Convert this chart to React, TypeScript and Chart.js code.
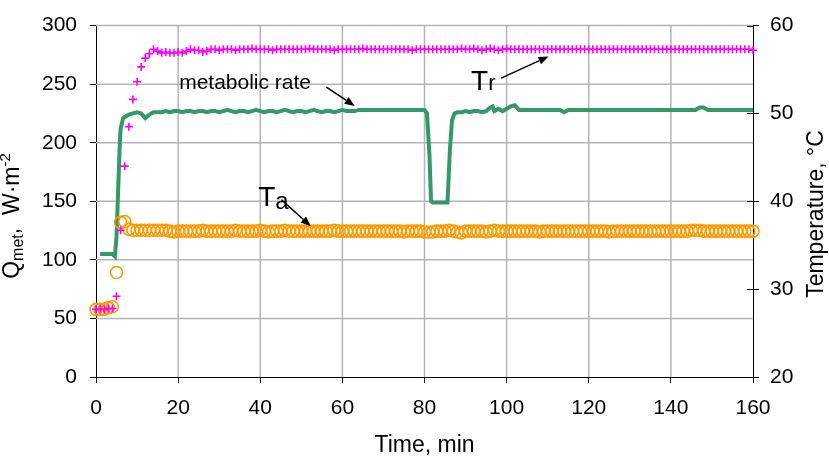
import React, { useEffect, useRef } from "react";
import { Chart, registerables } from "chart.js";

Chart.register(...registerables);

const FONT = '"Liberation Sans", Arial, Helvetica, sans-serif';

// sample times of temperature readings (minutes, every 1 min)
const sampleMinutes = Array.from({ length: 161 }, (_, i) => i);

// radiant temperature Tr, °C
const radiantTemp = [
  27.7, 27.7, 27.7, 27.8, 27.8, 29.2, 36.7, 44.0, 48.5, 51.6,
  53.6, 55.3, 56.3, 56.8, 57.3, 57.1, 56.9, 57.0, 56.9, 56.9,
  57.0, 56.9, 57.1, 57.3, 57.2, 57.2, 57.0, 57.1, 57.3, 57.3,
  57.2, 57.3, 57.3, 57.3, 57.2, 57.3, 57.3, 57.3, 57.4, 57.3,
  57.3, 57.3, 57.3, 57.2, 57.3, 57.3, 57.3, 57.3, 57.3, 57.3,
  57.3, 57.3, 57.4, 57.3, 57.3, 57.3, 57.3, 57.3, 57.2, 57.3,
  57.3, 57.3, 57.3, 57.3, 57.3, 57.4, 57.3, 57.3, 57.3, 57.3,
  57.3, 57.3, 57.3, 57.3, 57.3, 57.3, 57.3, 57.2, 57.3, 57.3,
  57.3, 57.3, 57.3, 57.3, 57.3, 57.3, 57.3, 57.3, 57.3, 57.4,
  57.3, 57.3, 57.4, 57.3, 57.2, 57.3, 57.4, 57.3, 57.2, 57.3,
  57.4, 57.3, 57.3, 57.3, 57.3, 57.3, 57.3, 57.3, 57.3, 57.3,
  57.3, 57.3, 57.3, 57.3, 57.3, 57.3, 57.3, 57.3, 57.3, 57.3,
  57.3, 57.3, 57.3, 57.3, 57.3, 57.3, 57.3, 57.3, 57.3, 57.3,
  57.3, 57.3, 57.3, 57.3, 57.3, 57.3, 57.3, 57.3, 57.3, 57.3,
  57.3, 57.3, 57.3, 57.3, 57.3, 57.3, 57.3, 57.3, 57.3, 57.3,
  57.3, 57.3, 57.3, 57.3, 57.3, 57.3, 57.3, 57.3, 57.3, 57.3,
  57.2,
];

// air temperature Ta, °C
const airTemp = [
  27.7, 27.7, 27.7, 27.9, 28.0, 31.9, 37.6, 37.7, 36.8, 36.7,
  36.7, 36.7, 36.7, 36.7, 36.7, 36.7, 36.7, 36.7, 36.6, 36.5,
  36.6, 36.6, 36.6, 36.6, 36.6, 36.6, 36.7, 36.6, 36.6, 36.6,
  36.6, 36.6, 36.6, 36.6, 36.7, 36.6, 36.6, 36.6, 36.6, 36.6,
  36.7, 36.6, 36.5, 36.6, 36.6, 36.6, 36.7, 36.6, 36.6, 36.6,
  36.6, 36.6, 36.6, 36.6, 36.6, 36.6, 36.6, 36.6, 36.7, 36.6,
  36.6, 36.6, 36.6, 36.6, 36.6, 36.6, 36.6, 36.6, 36.6, 36.6,
  36.6, 36.6, 36.6, 36.6, 36.6, 36.5, 36.6, 36.6, 36.6, 36.6,
  36.5, 36.5, 36.5, 36.6, 36.6, 36.6, 36.7, 36.6, 36.5, 36.4,
  36.6, 36.6, 36.6, 36.6, 36.6, 36.5, 36.6, 36.7, 36.6, 36.6,
  36.6, 36.6, 36.6, 36.6, 36.6, 36.6, 36.6, 36.6, 36.5, 36.6,
  36.6, 36.6, 36.6, 36.6, 36.6, 36.6, 36.6, 36.6, 36.6, 36.6,
  36.6, 36.6, 36.6, 36.6, 36.6, 36.5, 36.6, 36.6, 36.6, 36.6,
  36.6, 36.6, 36.6, 36.6, 36.6, 36.6, 36.6, 36.6, 36.6, 36.6,
  36.6, 36.6, 36.6, 36.6, 36.6, 36.7, 36.7, 36.7, 36.6, 36.6,
  36.6, 36.6, 36.6, 36.6, 36.6, 36.6, 36.6, 36.6, 36.6, 36.6,
  36.6,
];

// metabolic rate Qmet, W·m-2
const metTime = [
  1, 2, 3, 4, 4.6, 5.0, 5.4, 5.8, 6.0, 6.6,
  7, 8, 9, 10, 11, 12, 13, 14, 15, 16,
  17, 18, 19, 20, 21, 22, 23, 24, 25, 26,
  27, 28, 29, 30, 31, 32, 33, 34, 35, 36,
  37, 38, 39, 40, 41, 42, 43, 44, 45, 46,
  47, 48, 49, 50, 51, 52, 53, 54, 55, 56,
  57, 58, 59, 60, 61, 62, 63, 64, 65, 66,
  80, 80.6, 81.2, 81.6, 82, 85.6, 86.2, 86.7, 87.3,
  88, 89, 90, 91, 92, 93, 94, 95, 96, 96.6,
  97, 98, 99, 100, 101, 102, 103, 104,
  113, 114, 115, 146, 147, 148, 149, 160,
];
const metRate = [
  105, 105, 105, 105, 103, 120, 160, 200, 212, 221,
  222, 224, 225, 226, 225, 221, 224, 226, 226, 226,
  227, 226, 227, 227, 226, 227, 227, 226, 227, 227,
  226, 227, 227, 226, 227, 228, 227, 226, 227, 227,
  226, 227, 228, 227, 226, 227, 227, 226, 227, 228,
  227, 226, 227, 227, 226, 227, 228, 227, 226, 227,
  227, 226, 227, 228, 227, 227, 227, 228, 228, 228,
  228, 225, 190, 150, 149, 149, 195, 219, 225,
  226, 226, 227, 226, 227, 227, 226, 227, 230, 231,
  227, 229, 227, 229, 231, 232, 228, 228,
  228, 226, 228, 228, 230, 230, 228, 228,
];

const xTickStep = 20;
const qTickStep = 50;
const tTickStep = 10;

const GREEN = "#339966";
const MAGENTA = "#FF00FF";
const ORANGE = "#FF9900";
const GRID = "#B4B4B4";

function drawArrow(ctx: CanvasRenderingContext2D, x1: number, y1: number, x2: number, y2: number) {
  const ang = Math.atan2(y2 - y1, x2 - x1);
  const head = 10;
  const half = 4;
  const bx = x2 - head * Math.cos(ang);
  const by = y2 - head * Math.sin(ang);
  ctx.beginPath();
  ctx.moveTo(x1, y1);
  ctx.lineTo(bx, by);
  ctx.lineWidth = 1.5;
  ctx.strokeStyle = "#000";
  ctx.stroke();
  ctx.beginPath();
  ctx.moveTo(x2, y2);
  ctx.lineTo(bx + half * Math.sin(ang), by - half * Math.cos(ang));
  ctx.lineTo(bx - half * Math.sin(ang), by + half * Math.cos(ang));
  ctx.closePath();
  ctx.fillStyle = "#000";
  ctx.fill();
}

type Seg = { t: string; size: number; dy: number };

function drawRich(ctx: CanvasRenderingContext2D, segs: Seg[], x: number, y: number, align: "left" | "center") {
  ctx.textAlign = "left";
  ctx.textBaseline = "alphabetic";
  let total = 0;
  segs.forEach((s) => {
    ctx.font = `${s.size}px ${FONT}`;
    total += ctx.measureText(s.t).width;
  });
  let cx = align === "center" ? x - total / 2 : x;
  segs.forEach((s) => {
    ctx.font = `${s.size}px ${FONT}`;
    ctx.fillText(s.t, cx, y + s.dy);
    cx += ctx.measureText(s.t).width;
  });
}

const gridPlugin = {
  id: "gridlines",
  beforeDatasetsDraw(chart: any) {
    const { ctx, chartArea, scales } = chart;
    const xs = scales.x;
    const ys = scales.y;
    ctx.save();
    ctx.strokeStyle = GRID;
    ctx.lineWidth = 1.5;
    for (let v = xs.min + xTickStep; v < xs.max; v += xTickStep) {
      const px = xs.getPixelForValue(v);
      ctx.beginPath();
      ctx.moveTo(px, chartArea.top);
      ctx.lineTo(px, chartArea.bottom);
      ctx.stroke();
    }
    for (let v = ys.min + qTickStep; v <= ys.max; v += qTickStep) {
      const py = ys.getPixelForValue(v);
      ctx.beginPath();
      ctx.moveTo(chartArea.left, py);
      ctx.lineTo(chartArea.right, py);
      ctx.stroke();
    }
    ctx.restore();
  },
};

const overlayPlugin = {
  id: "overlay",
  afterDraw(chart: any) {
    const { ctx, chartArea, scales } = chart;
    const xs = scales.x;
    const ys = scales.y;
    const y2 = scales.y2;
    ctx.save();
    // inner half of right-axis cross ticks
    ctx.strokeStyle = "#000";
    ctx.lineWidth = 1;
    y2.ticks.forEach((t: any) => {
      const py = Math.round(y2.getPixelForValue(t.value)) + 0.5;
      ctx.beginPath();
      ctx.moveTo(chartArea.right - 6, py);
      ctx.lineTo(chartArea.right, py);
      ctx.stroke();
    });

    ctx.fillStyle = "#000";
    // x title
    ctx.font = `23px ${FONT}`;
    ctx.textAlign = "center";
    ctx.textBaseline = "alphabetic";
    ctx.fillText("Time, min", (chartArea.left + chartArea.right) / 2, 452);

    // right title
    ctx.save();
    ctx.translate(823, 214);
    ctx.rotate(-Math.PI / 2);
    ctx.font = `23px ${FONT}`;
    ctx.textAlign = "center";
    ctx.fillText("Temperature, °C", 0, 0);
    ctx.restore();

    // left title with subscript / superscript
    ctx.save();
    ctx.translate(19, 216);
    ctx.rotate(-Math.PI / 2);
    drawRich(
      ctx,
      [
        { t: "Q", size: 23, dy: 0 },
        { t: "met", size: 16, dy: 4 },
        { t: ",  W·m", size: 23, dy: 0 },
        { t: "-2", size: 15, dy: -9 },
      ],
      0,
      0,
      "center"
    );
    ctx.restore();

    // annotations anchored in data coordinates
    ctx.fillStyle = "#000";
    ctx.font = `21px ${FONT}`;
    ctx.textAlign = "left";
    ctx.textBaseline = "alphabetic";
    ctx.fillText("metabolic rate", xs.getPixelForValue(20.25), ys.getPixelForValue(245.8));
    drawArrow(ctx, xs.getPixelForValue(56.1), ys.getPixelForValue(247.5), xs.getPixelForValue(63.0), ys.getPixelForValue(231.4));

    drawRich(
      ctx,
      [
        { t: "T", size: 28, dy: 0 },
        { t: "r", size: 22, dy: 0 },
      ],
      xs.getPixelForValue(91.35),
      ys.getPixelForValue(244.7),
      "left"
    );
    drawArrow(ctx, xs.getPixelForValue(98.65), ys.getPixelForValue(255.1), xs.getPixelForValue(110.2), ys.getPixelForValue(273.7));

    drawRich(
      ctx,
      [
        { t: "T", size: 28, dy: 0 },
        { t: "a", size: 24, dy: 3 },
      ],
      xs.getPixelForValue(39.5),
      ys.getPixelForValue(145.8),
      "left"
    );
    drawArrow(ctx, xs.getPixelForValue(45.15), ys.getPixelForValue(151.4), xs.getPixelForValue(52.3), ys.getPixelForValue(128.8));
    ctx.restore();
  },
};

export default function App() {
  const ref = useRef<HTMLCanvasElement | null>(null);
  useEffect(() => {
    if (!ref.current) return;
    const tickFont = { family: FONT, size: 21 };
    const chart = new Chart(ref.current, {
      type: "scatter",
      data: {
        datasets: [
          {
            label: "Tr",
            data: sampleMinutes.map((t, i) => ({ x: t, y: radiantTemp[i] })),
            yAxisID: "y2",
            pointStyle: "cross",
            pointRadius: 4,
            borderWidth: 1.6,
            borderColor: MAGENTA,
            backgroundColor: MAGENTA,
            showLine: false,
            clip: false,
            order: 0,
          },
          {
            label: "Ta",
            data: sampleMinutes.map((t, i) => ({ x: t, y: airTemp[i] })),
            yAxisID: "y2",
            pointStyle: "circle",
            pointRadius: 6,
            borderWidth: 1.6,
            borderColor: ORANGE,
            backgroundColor: "rgba(0,0,0,0)",
            showLine: false,
            clip: false,
            order: 1,
          },
          {
            label: "metabolic rate",
            data: metTime.map((t, i) => ({ x: t, y: metRate[i] })),
            yAxisID: "y",
            showLine: true,
            borderColor: GREEN,
            backgroundColor: GREEN,
            borderWidth: 4,
            pointRadius: 0,
            tension: 0,
            clip: false,
            order: 2,
          },
        ],
      },
      options: {
        animation: false,
        responsive: false,
        devicePixelRatio: 1,
        layout: { padding: { top: 23, left: 0, right: 0, bottom: 0 } },
        plugins: { legend: { display: false }, tooltip: { enabled: false } },
        scales: {
          x: {
            type: "linear",
            min: 0,
            max: 160,
            ticks: { stepSize: xTickStep, font: tickFont, color: "#000", padding: 13, maxRotation: 0 },
            grid: { drawOnChartArea: false, color: "#000", tickColor: "#000", tickLength: 6, lineWidth: 1 },
            border: { color: "#000", width: 1 },
            afterFit: (s: any) => {
              s.height = 89;
            },
          },
          y: {
            type: "linear",
            position: "left",
            min: 0,
            max: 300,
            ticks: { stepSize: qTickStep, font: tickFont, color: "#000", padding: 13 },
            grid: { drawOnChartArea: false, color: "#000", tickColor: "#000", tickLength: 6, lineWidth: 1 },
            border: { color: "#000", width: 1 },
            afterFit: (s: any) => {
              s.width = 96;
            },
          },
          y2: {
            type: "linear",
            position: "right",
            min: 20,
            max: 60,
            ticks: { stepSize: tTickStep, font: tickFont, color: "#000", padding: 11 },
            grid: { drawOnChartArea: false, tickColor: "#000", tickLength: 6, color: "#000" },
            border: { color: "#000", width: 1 },
            afterFit: (s: any) => {
              s.width = 76;
            },
          },
        },
      },
      plugins: [gridPlugin, overlayPlugin],
    });
    return () => chart.destroy();
  }, []);
  return (
    <div style={{ position: "fixed", left: 0, top: 0, width: 829, height: 466, background: "#fff" }}>
      <canvas ref={ref} width={829} height={466} style={{ display: "block" }} />
    </div>
  );
}
